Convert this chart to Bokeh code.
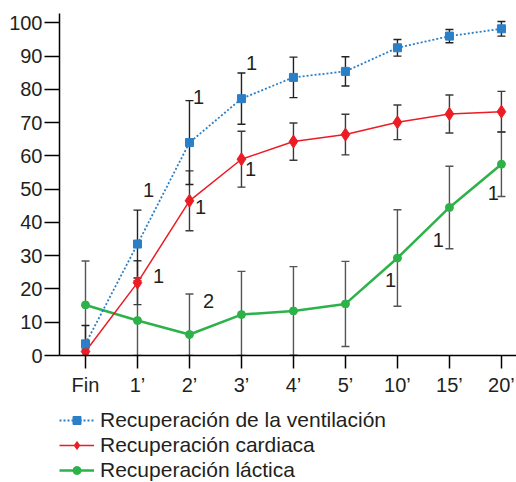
from bokeh.plotting import figure
from bokeh.layouts import column
from bokeh.models import (ColumnDataSource, Range1d, FixedTicker, Whisker, TeeHead,
                          Legend, LegendItem)
from bokeh.core.properties import value
from bokeh.embed import file_html
from bokeh.resources import INLINE

categories = ["Fin", "1’", "2’", "3’", "4’", "5’", "10’", "15’", "20’"]
vent = [3.5, 33.5, 64.0, 77.2, 83.6, 85.4, 92.5, 96.0, 98.2]
vent_err = [5.5, 10.2, 12.6, 7.7, 6.1, 4.4, 2.5, 2.0, 2.2]
card = [1.2, 21.9, 46.5, 59.0, 64.3, 66.4, 70.1, 72.6, 73.3]
card_err = [0.0, 6.6, 9.0, 8.4, 5.6, 6.1, 5.2, 5.7, 6.1]
lact = [15.2, 10.5, 6.3, 12.3, 13.4, 15.5, 29.3, 44.5, 57.5]
lact_err = [13.2, 12.0, 12.2, 13.0, 13.3, 12.8, 14.5, 12.4, 9.7]
y_ticks = [0, 10, 20, 30, 40, 50, 60, 70, 80, 90, 100]

# significance marks: category, y value, horizontal pixel offset, text
ann_cat = ["1’", "2’", "3’", "2’", "1’", "2’", "3’", "10’", "15’", "20’"]
ann_y = [49.6, 77.8, 87.8, 44.5, 24.0, 16.5, 56.2, 22.8, 34.6, 48.7]
ann_dx = [11, 9, 10, 11, 21, 19, 9, -7, -11, -8]
ann_txt = ["1", "1", "1", "1", "1", "2", "1", "1", "1", "1"]

labels = ["Recuperación de la ventilación", "Recuperación cardiaca", "Recuperación láctica"]

FONT = "Liberation Sans"
TXT = "#231f20"
BLUE = "#2a7fc6"
RED = "#ec1c24"
GREEN = "#2db24a"

xs = list(range(len(categories)))

p = figure(width=516, height=405, output_backend="svg", toolbar_location=None,
           x_range=Range1d(-0.5, 8.29), y_range=Range1d(0, 102.8),
           min_border_left=59, min_border_right=0, min_border_top=13,
           min_border_bottom=50)
p.outline_line_color = None
p.xgrid.visible = False
p.ygrid.visible = False
p.background_fill_color = None
p.border_fill_color = "white"

for ax in (p.xaxis[0], p.yaxis[0]):
    ax.axis_line_color = "black"
    ax.axis_line_width = 1.5
    ax.major_tick_line_color = "black"
    ax.major_tick_line_width = 1.5
    ax.major_tick_in = 0
    ax.minor_tick_line_color = None
    ax.major_label_text_font = FONT
    ax.major_label_text_font_size = "20px"
    ax.major_label_text_color = TXT

p.xaxis.ticker = FixedTicker(ticks=xs)
p.xaxis.major_label_overrides = {i: c for i, c in enumerate(categories)}
p.xaxis.major_tick_out = 13
p.xaxis.major_label_standoff = 5
p.yaxis.ticker = FixedTicker(ticks=y_ticks)
p.yaxis.major_tick_out = 15
p.yaxis.major_label_standoff = 2


def add_err(vals, errs, color):
    base = [x for x, e in zip(xs, errs) if e > 0]
    up = [v + e for v, e in zip(vals, errs) if e > 0]
    lo = [max(0.0, v - e) for v, e in zip(vals, errs) if e > 0]
    src = ColumnDataSource(dict(base=base, upper=up, lower=lo))
    w = Whisker(source=src, base="base", upper="upper", lower="lower",
                line_color=color, line_width=1.4, level="underlay",
                upper_head=TeeHead(size=8, line_color=color, line_width=1.4),
                lower_head=TeeHead(size=8, line_color=color, line_width=1.4))
    p.add_layout(w)


add_err(lact, lact_err, "#555555")
add_err(card, card_err, "#3a3a3a")
add_err(vent, vent_err, "#222222")

styles = [
    dict(color=BLUE, width=1.8, dash="2 2", marker="square", size=8),
    dict(color=RED, width=1.5, dash="solid", marker="diamond", size=13),
    dict(color=GREEN, width=2.5, dash="solid", marker="circle", size=8),
]

series = [vent, card, lact]
for idx in (2, 1, 0):
    s = styles[idx]
    p.line(xs, series[idx], line_color=s["color"], line_width=s["width"], line_dash=s["dash"])
    p.scatter(xs, series[idx], marker=s["marker"], size=s["size"],
              fill_color=s["color"], line_color=s["color"])

ann_src = ColumnDataSource(dict(x=[categories.index(c) for c in ann_cat], y=ann_y,
                                dx=ann_dx, t=ann_txt))
p.text(x="x", y="y", text="t", x_offset="dx", source=ann_src,
       text_font=value(FONT), text_font_size="20px", text_color=TXT,
       text_align="center", text_baseline="middle")

# legend panel (dummy renderers sit outside the visible range)
q = figure(width=516, height=77, output_backend="svg", toolbar_location=None,
           x_axis_location=None, y_axis_location=None,
           x_range=Range1d(0, 1), y_range=Range1d(0, 1),
           min_border=0, min_border_left=0, min_border_right=0,
           min_border_top=0, min_border_bottom=0)
q.outline_line_color = None
q.xgrid.visible = False
q.ygrid.visible = False
items = []
for lab, s in zip(labels, styles):
    ln = q.line([-5, -4], [-5, -4], line_color=s["color"], line_width=s["width"],
                line_dash=s["dash"])
    mk = q.scatter([-5], [-5], marker=s["marker"], size=s["size"],
                   fill_color=s["color"], line_color=s["color"])
    items.append(LegendItem(label=lab, renderers=[ln, mk]))

legend = Legend(items=items, location=(0, 0), orientation="vertical",
                padding=0, margin=0, spacing=1, glyph_width=35, glyph_height=20,
                label_height=20, label_standoff=6,
                label_text_font=FONT, label_text_font_size="21px",
                label_text_color=TXT, label_text_baseline="middle",
                border_line_color=None, background_fill_color=None,
                background_fill_alpha=0)
q.add_layout(legend)

layout = column(p, q, spacing=0)
open("out.html", "w").write(file_html(layout, INLINE))
